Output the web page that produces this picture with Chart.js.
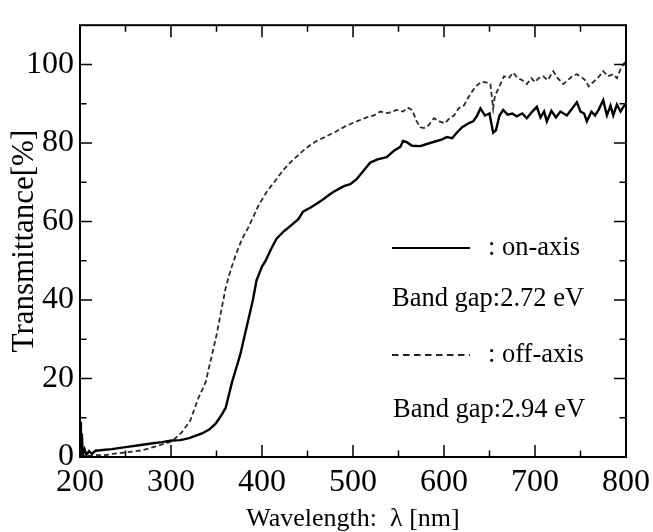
<!DOCTYPE html>
<html>
<head>
<meta charset="utf-8">
<script src="https://cdn.jsdelivr.net/npm/chart.js@4/dist/chart.umd.min.js"></script>
<style>
  html, body { margin: 0; padding: 0; background: #fff; }
  canvas { display: block; }
</style>
</head>
<body>
<canvas id="transChart" width="653" height="532"></canvas>
<script>
// on-axis film (solid line)
const onAxisNm = [200, 201, 202, 203, 205, 207, 210, 213, 217, 225, 235, 250, 265, 280, 290, 301, 310, 320, 334, 342,
  349, 355, 360, 367, 376, 383, 390, 394, 400, 404, 410, 416, 424, 431, 440, 445, 453, 460, 467, 475,
  482, 490, 497, 504, 510, 519, 527, 537, 545, 552, 555, 559, 565, 574, 582, 592, 598, 603, 609, 614,
  620, 627, 632, 636, 640, 645, 650, 654, 657, 661, 665, 670, 675, 680, 686, 691, 697, 702, 706, 710,
  713, 718, 723, 728, 735, 740, 746, 750, 754, 757, 762, 766, 770, 775, 779, 783, 786, 790, 794, 797, 800];
const onAxisT = [9, 0.5, 6, 0.8, 2, 0.5, 1.5, 0.8, 1.6, 1.8, 2.0, 2.5, 3.0, 3.5, 3.8, 4.2, 4.3, 4.8, 6, 7,
  8.5, 10.5, 12.5, 19, 26, 33, 40, 45, 48.5, 50, 53, 55.6, 57.5, 58.8, 60.6, 62.5, 63.5, 64.5, 65.6, 67,
  68, 69, 69.5, 70.8, 72.5, 75, 75.8, 76.4, 78, 79, 80.5, 80.2, 79.3, 79.2, 79.8, 80.5, 80.9, 81.5, 81.2, 82.6,
  84, 85, 85.5, 86.8, 88.8, 87, 87.5, 82.6, 83.2, 87, 88.4, 87.2, 87.5, 86.8, 87.5, 86.3, 88, 89.2, 86.5, 88,
  85.5, 88.2, 86.5, 88, 87, 88.5, 90.4, 88, 87.5, 85.5, 88, 87, 88.5, 90.9, 87, 89.5, 87, 89.8, 88, 89.2, 90];

// off-axis film (dashed line)
const offAxisNm = [200, 210, 220, 228, 240, 255, 268, 285, 301, 312, 321, 330, 338, 345, 350, 355, 360, 366, 372, 378,
  385, 396, 405, 415, 423, 431, 438, 445, 452, 460, 470, 482, 492, 504, 515, 523, 530, 538, 548, 555,
  560, 565, 570, 574, 578, 583, 589, 595, 601, 606, 611, 616, 622, 627, 632, 636, 641, 647, 651, 654,
  656, 660, 666, 671, 676, 681, 686, 691, 696, 700, 704, 709, 714, 720, 725, 731, 736, 741, 746, 751,
  755, 759, 764, 770, 775, 780, 786, 790, 794, 797, 800];
const offAxisT = [0.5, 0.3, 0.5, 0.5, 0.9, 1.3, 1.7, 2.8, 4, 6.3, 9.2, 15, 19, 26, 31, 37, 43, 48, 52, 55.5,
  58.5, 64, 67.5, 70.5, 73, 75, 76.5, 78, 79.3, 80.5, 81.6, 83, 84.3, 85.5, 86.5, 87, 88, 87.6, 88.4, 88,
  89, 88.4, 85.5, 84, 83.8, 84.5, 86.3, 85.5, 85, 86.3, 87, 88.8, 89.6, 91.7, 93.5, 94.6, 95.6, 95.4, 95, 88.8,
  92, 94, 97, 96.5, 97.9, 96.5, 96, 95, 96.5, 95.5, 96.5, 97, 96, 98.3, 96.5, 95, 96, 97, 97.5, 96.8,
  96, 94.4, 95.5, 96.8, 98.3, 97, 97.5, 96.5, 98.8, 100, 101];

const legendLines = [": on-axis", "Band gap:2.72 eV", ": off-axis", "Band gap:2.94 eV"];

const serif = "'Liberation Serif', 'Times New Roman', serif";

function toPoints(xs, ys) {
  return xs.map((v, i) => ({ x: v, y: ys[i] }));
}

// box frame with inward major/minor ticks on all four sides
const frameTicks = {
  id: "frameTicks",
  afterDatasetsDraw(chart) {
    const { ctx, chartArea: a, scales } = chart;
    const x = scales.x, y = scales.y;
    ctx.save();
    ctx.strokeStyle = "#000";
    ctx.lineWidth = 2;
    ctx.strokeRect(a.left, a.top, a.right - a.left, a.bottom - a.top);

    ctx.lineWidth = 1.5;
    ctx.beginPath();
    const xv = x.ticks.map(t => t.value);
    xv.forEach((v, i) => {
      const px = x.getPixelForValue(v);
      ctx.moveTo(px, a.bottom); ctx.lineTo(px, a.bottom - 12);
      ctx.moveTo(px, a.top); ctx.lineTo(px, a.top + 12);
      if (i < xv.length - 1) {
        const mx = x.getPixelForValue((v + xv[i + 1]) / 2);
        ctx.moveTo(mx, a.bottom); ctx.lineTo(mx, a.bottom - 6.5);
        ctx.moveTo(mx, a.top); ctx.lineTo(mx, a.top + 6.5);
      }
    });
    const yv = y.ticks.map(t => t.value);
    yv.forEach((v, i) => {
      const py = y.getPixelForValue(v);
      ctx.moveTo(a.left, py); ctx.lineTo(a.left + 12, py);
      ctx.moveTo(a.right, py); ctx.lineTo(a.right - 12, py);
      const nv = i < yv.length - 1 ? yv[i + 1] : v + (v - yv[i - 1]);
      const mv = (v + nv) / 2;
      if (mv < y.max) {
        const my = y.getPixelForValue(mv);
        ctx.moveTo(a.left, my); ctx.lineTo(a.left + 6.5, my);
        ctx.moveTo(a.right, my); ctx.lineTo(a.right - 6.5, my);
      }
    });
    ctx.stroke();
    ctx.restore();
  },
  afterDraw(chart) {
    const { ctx, chartArea: a } = chart;
    const lx = a.left + 312;
    ctx.save();
    ctx.strokeStyle = "#000";
    ctx.lineWidth = 2.2;
    ctx.beginPath();
    ctx.moveTo(lx, 248); ctx.lineTo(lx + 78, 248);
    ctx.stroke();
    ctx.strokeStyle = "#222";
    ctx.lineWidth = 1.8;
    ctx.setLineDash([6.5, 4.5]);
    ctx.beginPath();
    ctx.moveTo(lx, 355); ctx.lineTo(lx + 78, 355);
    ctx.stroke();
    ctx.setLineDash([]);

    ctx.fillStyle = "#000";
    ctx.font = "26.5px " + serif;
    ctx.textBaseline = "alphabetic";
    ctx.fillText(legendLines[0], lx + 96, 255);
    ctx.fillText(legendLines[1], lx, 306);
    ctx.fillText(legendLines[2], lx + 96, 362);
    ctx.fillText(legendLines[3], lx + 1, 417);
    ctx.restore();
  }
};

const canv = document.getElementById("transChart");
new Chart(canv, {
  type: "line",
  data: {
    datasets: [
      {
        label: "on-axis",
        data: toPoints(onAxisNm, onAxisT),
        borderColor: "#000",
        borderWidth: 2.4,
        pointRadius: 0,
        tension: 0,
      },
      {
        label: "off-axis",
        data: toPoints(offAxisNm, offAxisT),
        borderColor: "#2a2a2a",
        borderWidth: 1.8,
        borderDash: [5, 3],
        pointRadius: 0,
        tension: 0,
      },
    ],
  },
  options: {
    responsive: false,
    animation: false,
    devicePixelRatio: 1,
    layout: { padding: { top: 14, right: 27, bottom: 0, left: 0 } },
    plugins: { legend: { display: false }, tooltip: { enabled: false } },
    scales: {
      x: {
        type: "linear",
        min: 200,
        max: 800,
        grid: { display: false, drawTicks: false },
        border: { display: false },
        ticks: {
          stepSize: 100,
          includeBounds: false,
          padding: 6,
          color: "#000",
          font: { family: serif, size: 32 },
          maxRotation: 0,
        },
        title: {
          display: true,
          text: "Wavelength:  \u03bb [nm]",
          color: "#000",
          font: { family: serif, size: 26, lineHeight: 1 },
          padding: { top: 0, bottom: 0 },
        },
        afterFit(scale) {
          scale.height = 75;
          scale.paddingLeft = 0;
          scale.paddingRight = 0;
        },
      },
      y: {
        min: 0,
        max: 110,
        grid: { display: false, drawTicks: false },
        border: { display: false },
        ticks: {
          stepSize: 20,
          includeBounds: false,
          padding: 6,
          color: "#000",
          font: { family: serif, size: 32 },
        },
        title: {
          display: true,
          text: "Transmittance[%]",
          color: "#000",
          font: { family: serif, size: 31, lineHeight: 1 },
          padding: { top: 9, bottom: 0 },
        },
        afterFit(scale) { scale.width = 80; },
      },
    },
  },
  plugins: [frameTicks],
});
</script>
</body>
</html>
